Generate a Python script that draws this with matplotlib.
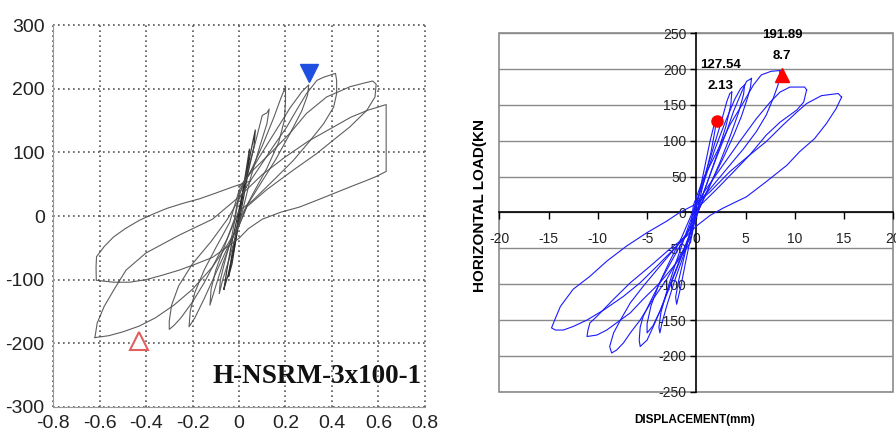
import matplotlib
matplotlib.use("Agg")
import matplotlib.pyplot as plt
from matplotlib.patches import Rectangle

plt.rcParams["axes.unicode_minus"] = False

# ---- left panel: H-NSRM-3x100-1, (displacement, load)
left_c0 = [(-0.045, -95), (-0.03, -60), (-0.01, -20), (0.01, 25), (0.03, 70), (0.045, 105), (0.04, 80),
           (0.02, 40), (0.0, 0), (-0.015, -40), (-0.03, -75), (-0.045, -95)]
left_c1 = [(-0.065, -115), (-0.05, -80), (-0.03, -40), (0.0, 10), (0.03, 60), (0.05, 100), (0.07, 135),
           (0.065, 110), (0.04, 70), (0.02, 30), (0.0, -10), (-0.02, -50), (-0.045, -90), (-0.065, -115)]
left_c2 = [(0.0, 30), (0.04, 75), (0.07, 115), (0.1, 158), (0.12, 162), (0.13, 168), (0.12, 145),
           (0.09, 110), (0.05, 60), (0.02, 15), (-0.01, -25), (-0.04, -65), (-0.07, -100), (-0.085, -122),
           (-0.08, -100), (-0.06, -70), (-0.03, -30), (0.0, 30)]
left_c3 = [(0.0, 35), (0.05, 70), (0.1, 110), (0.15, 155), (0.18, 185), (0.2, 203), (0.2, 180),
           (0.195, 150), (0.17, 115), (0.12, 75), (0.06, 35), (0.01, 0), (-0.03, -35), (-0.07, -75),
           (-0.1, -110), (-0.125, -140), (-0.12, -115), (-0.1, -85), (-0.06, -45), (-0.02, -5), (0.0, 35)]
left_c4 = [(0.0, 40), (0.05, 70), (0.1, 100), (0.16, 135), (0.22, 170), (0.27, 195), (0.30, 206),
           (0.295, 190), (0.27, 165), (0.22, 130), (0.16, 90), (0.1, 55), (0.04, 20), (0.0, -15),
           (-0.05, -50), (-0.1, -90), (-0.15, -130), (-0.19, -160), (-0.215, -174), (-0.21, -150),
           (-0.19, -120), (-0.15, -85), (-0.1, -50), (-0.04, -10), (0.0, 40)]
left_c5 = [(0.03, 45), (0.087, 76), (0.145, 108), (0.204, 139), (0.247, 166), (0.29, 192), (0.335, 213),
           (0.364, 218), (0.415, 224), (0.42, 213), (0.42, 192), (0.407, 171), (0.364, 145), (0.305, 118),
           (0.233, 87), (0.145, 55), (0.058, 24), (0.0, 8), (-0.05, -35), (-0.1, -70), (-0.15, -105),
           (-0.2, -135), (-0.25, -160), (-0.28, -172), (-0.30, -178), (-0.30, -165), (-0.29, -140),
           (-0.26, -110), (-0.2, -75), (-0.12, -40), (-0.05, -5), (0.03, 45)]
left_c6 = [(0.0, 45), (0.06, 72), (0.147, 103), (0.219, 130), (0.29, 161), (0.377, 187), (0.477, 203),
           (0.54, 209), (0.575, 212), (0.59, 207), (0.585, 187), (0.55, 166), (0.477, 140), (0.405, 119),
           (0.334, 98), (0.233, 72), (0.118, 41), (0.032, 14), (0.0, -15), (-0.05, -45), (-0.114, -80),
           (-0.2, -115), (-0.28, -140), (-0.36, -160), (-0.43, -173), (-0.5, -182), (-0.56, -188),
           (-0.62, -191)]
left_c7 = [(-0.62, -191), (-0.61, -168), (-0.58, -142), (-0.54, -117), (-0.486, -85), (-0.4, -58),
           (-0.257, -30), (-0.114, -5), (0.0, 30), (0.1, 65), (0.196, 92), (0.3, 118), (0.393, 137),
           (0.48, 155), (0.553, 166), (0.633, 175), (0.633, 70), (0.59, 62), (0.55, 56), (0.48, 46),
           (0.405, 35), (0.33, 24), (0.26, 14), (0.18, 6), (0.1, -5), (0.04, -20), (0.0, -35),
           (-0.114, -65), (-0.19, -76), (-0.257, -85), (-0.33, -93), (-0.4, -100), (-0.47, -104),
           (-0.54, -104), (-0.614, -101), (-0.615, -80), (-0.613, -64), (-0.58, -48), (-0.54, -33),
           (-0.49, -20), (-0.43, -7), (-0.37, 3), (-0.31, 12), (-0.24, 20), (-0.17, 27), (-0.1, 36),
           (-0.025, 46), (0.05, 55)]
left_loops = [left_c0, left_c1, left_c2, left_c3, left_c4, left_c5, left_c6, left_c7]
left_peak_pos = (0.30, 224)
left_peak_neg = (-0.43, -196)
left_xticks = [-0.8, -0.6, -0.4, -0.2, 0, 0.2, 0.4, 0.6, 0.8]
left_xlabels = ["-0.8", "-0.6", "-0.4", "-0.2", "0", "0.2", "0.4", "0.6", "0.8"]
left_yticks = [-300, -200, -100, 0, 100, 200, 300]
left_title = "H-NSRM-3x100-1"

# ---- right panel: displacement (mm) vs horizontal load (kN)
right_c1 = [(2.0, 128), (1.9, 115), (1.5, 85), (0.8, 45), (0.1, 5), (-0.5, -30), (-1.1, -70), (-1.6, -105),
            (-2.0, -128), (-2.1, -118), (-1.8, -95), (-1.2, -60), (-0.5, -20), (0.2, 20), (0.8, 60),
            (1.4, 100), (1.8, 122), (2.0, 128)]
right_c2 = [(3.6, 168), (3.5, 150), (3.0, 120), (2.2, 85), (1.2, 45), (0.3, 10), (-0.5, -25), (-1.3, -60),
            (-2.2, -95), (-3.0, -130), (-3.5, -155), (-3.7, -168), (-3.8, -160), (-3.6, -140), (-3.0, -110),
            (-2.2, -75), (-1.2, -35), (-0.3, 0), (0.5, 35), (1.5, 80), (2.5, 125), (3.1, 155), (3.4, 166),
            (3.6, 168)]
right_c3 = [(5.6, 187), (5.5, 175), (5.2, 160), (4.6, 135), (3.8, 108), (2.8, 78), (1.8, 50), (0.8, 22),
            (0.0, -3), (-0.8, -35), (-1.8, -70), (-2.8, -105), (-3.7, -138), (-4.4, -160), (-5.0, -178),
            (-5.7, -187), (-5.8, -178), (-5.7, -160), (-5.4, -145), (-4.4, -117), (-3.4, -90), (-2.2, -60),
            (-1.0, -30), (0.0, 0), (1.0, 38), (2.0, 75), (3.0, 110), (3.8, 142), (4.6, 168), (5.1, 183),
            (5.6, 187)]
right_c3b = [(4.9, 178), (4.8, 165), (4.3, 140), (3.4, 105), (2.4, 70), (1.3, 35), (0.3, 5), (-0.6, -28),
             (-1.6, -65), (-2.6, -100), (-3.6, -135), (-4.4, -158), (-5.0, -168), (-5.0, -155), (-4.6, -130),
             (-3.8, -100), (-2.7, -68), (-1.5, -35), (-0.4, 0), (0.7, 40), (1.8, 85), (2.9, 125), (3.9, 158),
             (4.5, 173), (4.9, 178)]
right_c4 = [(8.5, 198), (8.3, 178), (7.8, 159), (7.1, 136), (6.1, 113), (4.8, 89), (3.1, 61), (1.4, 33),
            (0.0, 10), (-0.5, -33), (-1.7, -61), (-3.0, -93), (-4.4, -121), (-5.7, -150), (-6.7, -168),
            (-7.4, -182), (-8.1, -192), (-8.6, -196), (-8.8, -187), (-8.4, -168), (-7.7, -150), (-6.7, -126),
            (-5.4, -103), (-3.7, -75), (-2.0, -47), (-0.6, -23), (-0.3, 10), (0.7, 47), (2.1, 85), (3.4, 122),
            (4.8, 154), (5.8, 178), (6.6, 192), (7.6, 197), (8.5, 198)]
right_c5 = [(11.2, 171), (10.9, 154), (10.2, 143), (8.5, 126), (7.1, 108), (5.4, 80), (3.8, 57), (2.1, 33),
            (0.4, 10), (-0.2, -15), (-0.6, -42), (-2.0, -70), (-3.7, -98), (-5.4, -121), (-6.7, -140),
            (-8.1, -154), (-9.1, -164), (-10.1, -171), (-11.1, -173), (-11.0, -164), (-10.8, -154),
            (-10.1, -145), (-8.4, -121), (-6.7, -98), (-4.7, -75), (-2.7, -51), (-1.0, -33), (-0.4, -10),
            (-0.1, 10), (1.0, 33), (2.7, 66), (4.4, 99), (6.1, 131), (7.5, 154), (8.5, 168), (9.5, 175),
            (11.0, 175), (11.2, 171)]
right_c6 = [(14.75, 161), (14.2, 145), (13.2, 124), (12.0, 103), (10.5, 85), (9.2, 66), (7.1, 43), (5.1, 22),
            (2.7, 6), (1.4, -4), (0.0, -19), (-1.0, -33), (-2.3, -51), (-4.0, -75), (-5.7, -98), (-7.4, -117),
            (-9.4, -136), (-11.1, -150), (-12.5, -159), (-13.5, -164), (-14.3, -164), (-14.7, -161),
            (-14.5, -154), (-13.8, -131), (-12.5, -107), (-10.8, -89), (-9.1, -68), (-7.1, -47), (-5.0, -28),
            (-3.0, -12), (-1.7, 0), (0.0, 12), (1.4, 29), (3.4, 57), (5.4, 80), (7.1, 99), (8.8, 122),
            (10.2, 140), (11.2, 152), (12.7, 163), (14.4, 166), (14.75, 161)]
right_loops = [right_c1, right_c2, right_c3, right_c3b, right_c4, right_c5, right_c6]
right_yield = (2.13, 127.54)
right_peak = (8.7, 191.89)
right_xticks = [-20, -15, -10, -5, 0, 5, 10, 15, 20]
right_yticks = [-250, -200, -150, -100, -50, 0, 50, 100, 150, 200, 250]

sans = ["Liberation Sans", "DejaVu Sans"]

fig = plt.figure(figsize=(8.96, 4.41), dpi=100)

# left chart
ax1 = fig.add_axes([0.0592, 0.0771, 0.4151, 0.8662])
for i, loop in enumerate(left_loops):
    xs = [p[0] for p in loop]
    ys = [p[1] for p in loop]
    ax1.plot(xs, ys, color="#222222" if i < 2 else "#4d4d4d", lw=0.9 if i < 2 else 0.8, alpha=0.9)
ax1.plot(*left_peak_pos, marker="v", ms=13, color="#1f4fe0", mec="#1f4fe0", zorder=5)
ax1.plot(*left_peak_neg, marker="^", ms=13, mfc="white", mec="#e06060", mew=1.5, zorder=5)
ax1.set_xlim(-0.8, 0.8)
ax1.set_ylim(-300, 300)
ax1.set_xticks(left_xticks)
ax1.set_xticklabels(left_xlabels)
ax1.set_yticks(left_yticks)
ax1.tick_params(length=0, pad=6, labelsize=14, labelcolor="#222222")
for lab in ax1.get_xticklabels() + ax1.get_yticklabels():
    lab.set_family(sans)
ax1.grid(True, color="#555555", ls=(0, (1, 2)), lw=1.2, clip_on=False)
ax1.spines["top"].set_visible(False)
ax1.spines["right"].set_visible(False)
for s in ["left", "bottom"]:
    ax1.spines[s].set_color("#999999")
ax1.text(0.992, 0.063, left_title, transform=ax1.transAxes, ha="right", va="baseline",
         family=["Liberation Serif", "DejaVu Serif"], fontweight="bold", fontsize=19.5, color="#111111")

# right chart
ax2 = fig.add_axes([0.5573, 0.1118, 0.4397, 0.8127])
for y in right_yticks:
    ax2.axhline(y, color="#8a8a8a", lw=1.0, zorder=1)
ax2.add_patch(Rectangle((0, 0), 1, 1, transform=ax2.transAxes, fill=False, ec="#8a8a8a", lw=1.2,
                        clip_on=False, zorder=1))
for loop in right_loops:
    xs = [p[0] for p in loop]
    ys = [p[1] for p in loop]
    ax2.plot(xs, ys, color="#1a1aff", lw=0.8, zorder=3)
ax2.plot(*right_yield, marker="o", ms=8, color="#ff0000", zorder=5)
ax2.plot(*right_peak, marker="^", ms=10, color="#ff0000", zorder=5)
ax2.text(right_peak[0], 247, f"{right_peak[1]:.2f}", ha="center", va="center", fontsize=9.5,
         fontweight="bold", family=sans)
ax2.text(right_peak[0], 218.5, f"{right_peak[0]}", ha="center", va="center", fontsize=9.5,
         fontweight="bold", family=sans)
ax2.text(2.48, 205.5, f"{right_yield[1]:.2f}", ha="center", va="center", fontsize=9.5,
         fontweight="bold", family=sans)
ax2.text(2.48, 175.8, f"{right_yield[0]}", ha="center", va="center", fontsize=9.5,
         fontweight="bold", family=sans)
ax2.set_xlim(-20, 20)
ax2.set_ylim(-250, 250)
for s in ["top", "right"]:
    ax2.spines[s].set_visible(False)
ax2.spines["left"].set_position(("data", 0))
ax2.spines["bottom"].set_position(("data", 0))
for s in ["left", "bottom"]:
    ax2.spines[s].set_color("black")
    ax2.spines[s].set_linewidth(1.2)
    ax2.spines[s].set_zorder(2)
ax2.set_xticks(right_xticks)
ax2.set_yticks(right_yticks)
ax2.tick_params(axis="x", direction="out", length=5, width=1, pad=9, labelsize=10, labelcolor="#222222")
ax2.tick_params(axis="y", direction="out", length=4, width=1, pad=3, labelsize=10, labelcolor="#222222")
for lab in ax2.get_xticklabels() + ax2.get_yticklabels():
    lab.set_family(sans)
    lab.set_clip_on(False)
fig.text(0.7757, 0.0476, "DISPLACEMENT(mm)", ha="center", va="center", fontsize=8.5,
         fontweight="bold", family=sans)
fig.text(0.5357, 0.535, "HORIZONTAL LOAD(KN", ha="center", va="center", rotation=90, fontsize=11,
         fontweight="bold", family=sans)

fig.savefig("out.png", dpi=100)
